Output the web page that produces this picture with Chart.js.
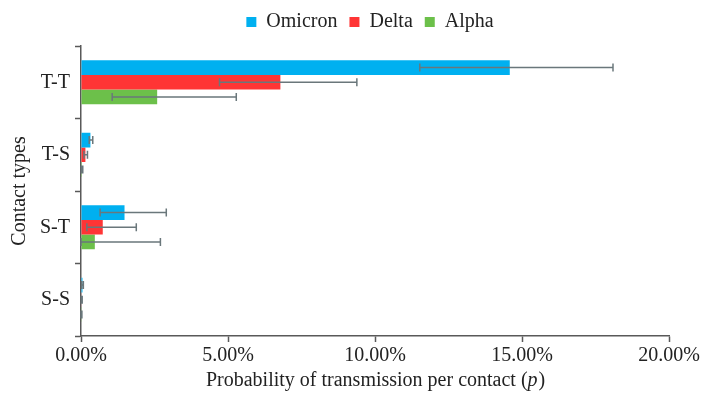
<!DOCTYPE html>
<html>
<head>
<meta charset="utf-8">
<script src="https://cdn.jsdelivr.net/npm/chart.js@4"></script>
<style>
  html,body{margin:0;padding:0;background:#fff;}
  #c{display:block;}
</style>
</head>
<body>
<canvas id="c" width="702" height="401"></canvas>
<script>
// categories (top to bottom) and values in percent
var contactTypes = ['T-T', 'T-S', 'S-T', 'S-S'];
var omicron    = [14.58, 0.32, 1.48, 0.05];
var omicronLow = [11.52, 0.28, 0.65, 0.02];
var omicronHigh= [18.09, 0.40, 2.90, 0.08];
var delta      = [6.78, 0.15, 0.74, 0.02];
var deltaLow   = [4.71, 0.10, 0.20, 0.01];
var deltaHigh  = [9.38, 0.22, 1.88, 0.04];
var alpha      = [2.59, 0.03, 0.47, 0.01];
var alphaLow   = [1.06, 0.01, 0.00, 0.00];
var alphaHigh  = [5.28, 0.06, 2.70, 0.03];
var xTicks = [0, 5, 10, 15, 20];
var xTitle = ['Probability of transmission per contact (', 'p', ')'];

var FONT = "'Liberation Serif','Times New Roman',serif";
var AXIS = '#595959';
var TXT = '#222';

// draws the whiskers after the bars
var errBars = {
  id: 'errBars',
  afterDatasetsDraw: function(chart){
    var ctx = chart.ctx, xs = chart.scales.x;
    ctx.save();
    ctx.strokeStyle = '#6a777b';
    ctx.lineWidth = 1.5;
    chart.data.datasets.forEach(function(ds, i){
      var meta = chart.getDatasetMeta(i);
      meta.data.forEach(function(bar, j){
        var x1 = xs.getPixelForValue(ds.errLow[j]);
        var x2 = xs.getPixelForValue(ds.errHigh[j]);
        var y = bar.y, h = 4;
        ctx.beginPath();
        ctx.moveTo(x1, y); ctx.lineTo(x2, y);
        ctx.moveTo(x1, y - h); ctx.lineTo(x1, y + h);
        ctx.moveTo(x2, y - h); ctx.lineTo(x2, y + h);
        ctx.stroke();
      });
    });
    ctx.restore();
  }
};

// x title with italic p
var xTitlePlugin = {
  id: 'xTitle',
  afterDraw: function(chart){
    var ctx = chart.ctx, a = chart.chartArea;
    var fN = '20px ' + FONT, fI = 'italic 20px ' + FONT;
    ctx.save();
    ctx.fillStyle = TXT;
    ctx.textBaseline = 'middle';
    ctx.font = fN; var w0 = ctx.measureText(xTitle[0]).width, w2 = ctx.measureText(xTitle[2]).width;
    ctx.font = fI; var w1 = ctx.measureText(xTitle[1]).width;
    var x = (a.left + a.right) / 2 - (w0 + w1 + w2) / 2, y = 381;
    ctx.font = fN; ctx.fillText(xTitle[0], x, y);
    ctx.font = fI; ctx.fillText(xTitle[1], x + w0, y);
    ctx.font = fN; ctx.fillText(xTitle[2], x + w0 + w1 + 1, y);
    ctx.restore();
  }
};

// legend: fixed height, centred a bit right like the original
var legendBox = {
  id: 'legendBox',
  beforeInit: function(chart){
    var fit = chart.legend.fit;
    chart.legend.fit = function(){ fit.bind(chart.legend)(); this.height = 46; };
  },
  afterLayout: function(chart){ chart.legend.left = 38; }
};

new Chart(document.getElementById('c'), {
  type: 'bar',
  data: {
    labels: contactTypes,
    datasets: [
      {label: 'Omicron', data: omicron, errLow: omicronLow, errHigh: omicronHigh, backgroundColor: '#00b0f0'},
      {label: 'Delta', data: delta, errLow: deltaLow, errHigh: deltaHigh, backgroundColor: '#ff3535'},
      {label: 'Alpha', data: alpha, errLow: alphaLow, errHigh: alphaHigh, backgroundColor: '#6cc04a'}
    ]
  },
  options: {
    indexAxis: 'y',
    responsive: false,
    animation: false,
    barPercentage: 1,
    categoryPercentage: 0.61,
    layout: {padding: 0},
    plugins: {
      legend: {
        position: 'top',
        labels: {boxWidth: 10, boxHeight: 10, padding: 12, color: TXT, font: {family: FONT, size: 20}}
      },
      tooltip: {enabled: false}
    },
    scales: {
      x: {
        min: 0, max: 20,
        afterBuildTicks: function(s){ s.ticks = xTicks.map(function(v){ return {value: v}; }); },
        afterFit: function(s){ s.height = 65; },
        ticks: {color: TXT, font: {family: FONT, size: 20}, padding: 2,
                callback: function(v){ return v.toFixed(2) + '%'; }},
        grid: {drawOnChartArea: false, color: AXIS, tickLength: 6, tickWidth: 1.5},
        border: {color: AXIS, width: 1.5}
      },
      y: {
        offset: true,
        afterFit: function(s){ s.width = 81; },
        ticks: {color: TXT, font: {family: FONT, size: 20}, padding: 5},
        grid: {offset: true, drawOnChartArea: false, color: AXIS, tickLength: 6, tickWidth: 1.5},
        border: {color: AXIS, width: 1.5},
        title: {display: true, text: 'Contact types', color: TXT, font: {family: FONT, size: 20}, padding: {top: 8, bottom: 0}}
      }
    }
  },
  plugins: [errBars, xTitlePlugin, legendBox]
});
</script>
</body>
</html>
